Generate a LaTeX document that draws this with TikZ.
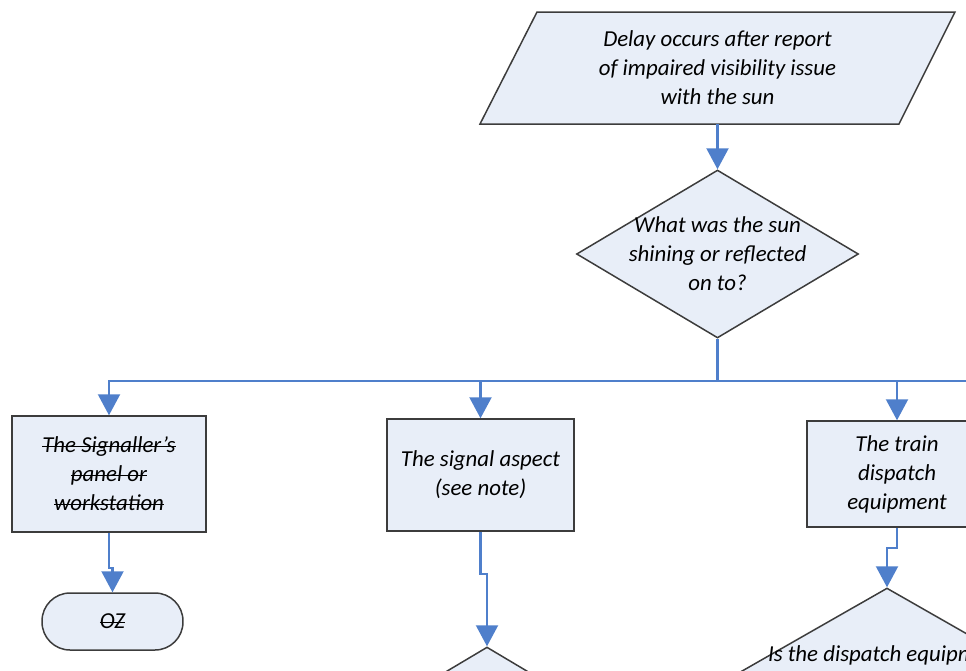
\documentclass[tikz,border=0pt]{standalone}
\usepackage{fontspec}
\setmainfont{Carlito}
\usetikzlibrary{arrows.meta,shapes.geometric}
\definecolor{fillc}{HTML}{E8EEF8}
\definecolor{edgec}{HTML}{3C3C3C}
\definecolor{linec}{HTML}{4F7FCB}
\newcommand\mystrike[1]{\leavevmode\setbox0\hbox{#1}\rlap{\rule[0.55ex]{\wd0}{0.7pt}}\box0}
\begin{document}
\begin{tikzpicture}[x=0.02cm,y=-0.02cm,
  box/.style={draw=edgec, fill=fillc, line width=0.85pt, inner sep=0pt},
  txt/.style={font=\itshape\fontsize{13}{16.5}\selectfont, align=center, text=black},
  wire/.style={draw=linec, line width=1.2pt},
  conn/.style={wire, -{Triangle[width=0.44cm,length=0.42cm]}}]
\useasboundingbox (0,0) rectangle (966,670);
\clip (0,0) rectangle (966,670);

% start parallelogram
\draw[box] (537,12) -- (955,12) -- (899,124) -- (480,124) -- cycle;
\node[txt, inner sep=0pt, minimum width=8cm, minimum height=2.24cm] (start) at (717.5,68)
  {Delay occurs after report\\of impaired visibility issue\\with the sun};

% first decision
\node[box, diamond, minimum width=5.64cm, minimum height=3.36cm] (q1) at (717.5,254) {};
\node[txt] (q1t) at (q1) {What was the sun\\shining or reflected\\on to?};

% boxes
\node[box, txt, minimum width=3.88cm, minimum height=2.32cm] (b1) at (109,474)
  {\mystrike{The Signaller’s}\\\mystrike{panel or}\\\mystrike{workstation}};
\node[box, txt, minimum width=3.74cm, minimum height=2.24cm] (b2) at (480.5,475)
  {The signal aspect\\(see note)};
\node[box, txt, minimum width=3.6cm, minimum height=2.12cm] (b3) at (897,474)
  {The train\\dispatch\\equipment};

% terminal
\node[box, txt, rounded corners=0.56cm, minimum width=2.82cm, minimum height=1.14cm] (oz) at (112.5,621.5)
  {\mystrike{OZ}};

% lower decisions (partly outside)
\node[box, diamond, minimum width=5.64cm, minimum height=3.36cm] (q2) at (487,731) {};
\node[box, diamond, minimum width=5.88cm, minimum height=3.36cm] (q3) at (887,672) {};
\node[txt] (q3t) at (887,655) {Is the dispatch equipment};

% connectors
\draw[conn] (start.south) -- (q1.north);
\coordinate (bus) at (717.5,381);
\coordinate (busend) at (1000,381);
\draw[wire] (q1.south) -- (bus) -- (busend);
\draw[conn] (bus) -| (b1.north);
\draw[conn] (bus) -| (b2.north);
\draw[conn] (bus) -| (b3.north);
\draw[conn] (b1.south) -- ++(0,35) -| (oz.north);
\draw[conn] (b2.south) -- ++(0,42) -| (q2.north);
\draw[conn] (b3.south) -- ++(0,20) -| (q3.north);
\end{tikzpicture}
\end{document}
